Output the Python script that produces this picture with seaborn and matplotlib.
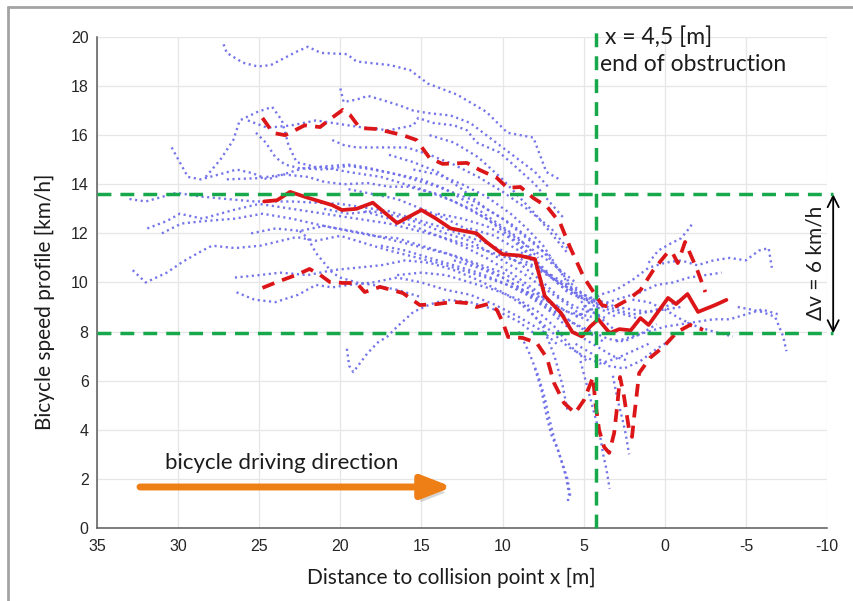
import numpy as np
import pandas as pd
import matplotlib
matplotlib.use("Agg")
import matplotlib.pyplot as plt
import matplotlib.patheffects as pe
from matplotlib.lines import Line2D
import seaborn as sns

# ---------------- data ----------------
x_ticks = [35, 30, 25, 20, 15, 10, 5, 0, -5, -10]
y_ticks = [0, 2, 4, 6, 8, 10, 12, 14, 16, 18, 20]

mean_x = [24.7, 23.9, 23.1, 22.0, 20.5, 19.9, 19.0, 18.0, 16.5, 15.0, 14.1, 13.2, 11.6, 11.0, 10.0,
          9.0, 8.0, 7.4, 6.4, 5.7, 5.1, 4.6, 4.1, 3.4, 2.8, 2.1, 1.5, 1.0, -0.2, -0.7, -1.4, -2.05, -3.1, -3.8]
mean_y = [13.3, 13.35, 13.69, 13.45, 13.15, 12.95, 13.0, 13.25, 12.42, 12.95, 12.6, 12.2, 12.0, 11.65, 11.15,
          11.1, 10.95, 9.45, 8.76, 7.98, 7.8, 8.2, 8.5, 7.94, 8.1, 8.05, 8.55, 8.27, 9.37, 9.12, 9.53, 8.80, 9.08, 9.29]

upper_x = [24.8, 24.15, 23.4, 22.2, 21.25, 20.45, 19.85, 19.4, 18.8, 17.75, 16.15, 15.3, 14.5, 13.7, 12.2,
           11.4, 10.35, 9.7, 8.9, 8.1, 7.25, 6.45, 5.85, 5.0, 4.2, 3.87, 3.2, 2.3, 1.5, 0.7, -0.15, -0.45,
           -0.8, -1.25, -2.0, -2.5]
upper_y = [16.7, 16.09, 16.0, 16.4, 16.33, 16.74, 17.03, 16.82, 16.29, 16.25, 16.0, 15.8, 15.07, 14.83, 14.87,
           14.58, 14.26, 13.85, 13.89, 13.44, 13.08, 12.42, 11.45, 10.22, 9.41, 9.08, 8.96, 9.29, 9.69, 10.51,
           11.2, 11.24, 10.79, 11.65, 10.51, 9.61]

lower_x = [24.8, 23.9, 22.7, 21.9, 21.25, 20.65, 19.85, 19.0, 18.5, 17.55, 16.15, 15.1, 14.05, 13.05, 12.2,
           11.6, 10.9, 10.35, 9.97, 9.66, 8.75, 7.9, 7.26, 6.83, 6.21, 5.53, 4.98, 4.42, 4.3, 4.05, 3.74,
           3.43, 3.12, 2.94, 2.76, 2.51, 2.2, 2.02, 1.89, 1.58, 0.91, 0.1, -0.76, -1.56, -2.36]
lower_y = [9.78, 10.02, 10.31, 10.55, 10.31, 10.02, 9.98, 9.98, 9.61, 9.82, 9.57, 9.08, 9.12, 9.21, 9.16,
           9.0, 9.12, 8.88, 8.35, 7.78, 7.74, 7.54, 6.92, 5.91, 5.09, 4.68, 5.21, 6.15, 5.21, 3.99, 3.3,
           3.06, 3.87, 4.93, 6.15, 5.34, 3.99, 3.71, 4.52, 6.31, 6.93, 7.37, 7.98, 8.27, 8.07]

# individual bicycle trajectories (x [m], v [km/h])
traj01 = ([27.2, 27.0, 26.0, 25.1, 24.3, 22.7, 22.0, 21.2, 19.6, 19.0, 16.9, 15.7, 14.6, 12.8, 11.0, 9.7, 8.1, 7.3, 6.5],
          [19.7, 19.35, 18.95, 18.8, 18.85, 19.4, 19.6, 19.35, 19.3, 19.0, 18.85, 18.65, 18.1, 17.65, 16.95, 16.1, 15.9, 14.5, 14.2])
traj02 = ([20.0, 19.8, 19.0, 18.3, 17.5, 16.3, 15.5, 14.6, 13.2, 12.0, 11.0, 10.0, 9.0, 8.0, 7.2],
          [17.9, 17.35, 17.45, 17.6, 17.45, 17.2, 17.0, 16.9, 16.8, 16.5, 16.0, 15.5, 15.0, 14.5, 13.9])
traj03 = ([28.3, 27.4, 26.6, 26.2, 25.1, 24.2, 23.6, 23.2, 22.7, 21.5, 19.5, 18.5, 16.5, 14.0, 12.0, 10.0, 8.5, 7.0],
          [14.3, 15.0, 15.8, 16.6, 16.95, 17.15, 16.6, 15.6, 14.9, 14.7, 14.8, 14.7, 14.4, 13.9, 13.4, 12.6, 11.8, 11.0])
traj04 = ([25.7, 24.5, 23.0, 21.5, 20.0, 18.5, 17.0, 15.5, 15.2, 14.3, 13.0, 12.2, 11.6, 10.2, 9.0, 8.0, 7.0, 6.2],
          [16.6, 16.3, 16.4, 16.6, 16.45, 16.3, 16.2, 16.4, 16.7, 16.5, 16.4, 16.2, 15.7, 15.3, 14.6, 14.0, 13.2, 12.6])
traj05 = ([20.5, 19.8, 19.0, 17.1, 15.9, 14.5, 13.0, 11.5, 10.0, 8.5, 7.0, 6.0],
          [15.8, 15.6, 15.5, 15.5, 15.5, 15.2, 14.8, 14.3, 13.7, 13.0, 12.2, 11.4])
traj06 = ([30.4, 29.9, 29.4, 28.6, 27.2, 26.4, 25.4, 24.5, 22.3, 21.1, 19.5, 17.5, 15.0, 13.0, 11.0, 9.0, 7.5, 6.0, 4.5],
          [15.5, 14.9, 14.3, 14.2, 14.45, 14.6, 14.45, 14.2, 14.65, 14.7, 14.5, 14.3, 13.8, 13.3, 12.6, 11.6, 10.6, 9.6, 9.2])
traj07 = ([25.2, 24.6, 24.0, 23.4, 22.5, 21.0, 19.5, 18.0, 16.5, 15.0, 13.5, 12.0, 10.5, 9.0, 7.8],
          [16.1, 15.7, 15.1, 14.8, 14.65, 14.6, 14.75, 14.6, 14.4, 14.2, 13.8, 13.2, 12.5, 11.8, 11.0])
traj08 = ([27.0, 25.0, 23.5, 22.0, 21.0, 19.8, 18.3, 17.0, 15.8, 14.0, 12.0, 10.0, 8.5, 7.0, 5.5],
          [14.2, 14.25, 14.4, 14.3, 14.1, 14.0, 14.05, 13.9, 13.9, 13.6, 13.0, 12.2, 11.5, 10.8, 10.0])
traj09 = ([33.0, 32.0, 30.1, 28.6, 27.0, 25.3, 23.0, 20.0, 17.0, 14.0, 11.0, 9.0, 7.0, 5.0, 3.0, 1.0, -1.0],
          [13.4, 13.3, 13.65, 13.5, 13.4, 13.3, 13.3, 13.2, 12.9, 12.3, 11.6, 11.0, 10.3, 9.5, 9.0, 8.8, 9.0])
traj10 = ([31.9, 30.7, 29.9, 28.5, 26.6, 25.0, 23.0, 20.0, 17.0, 14.0, 11.0, 8.0, 6.0, 4.5, 3.0],
          [12.2, 12.5, 12.8, 12.6, 12.95, 13.2, 13.0, 12.7, 12.4, 11.9, 11.3, 10.6, 9.8, 9.1, 8.6])
traj11 = ([31.0, 29.8, 28.4, 26.5, 24.8, 23.0, 21.0, 18.5, 16.0, 13.0, 10.0, 8.0, 6.0, 4.5],
          [12.0, 12.4, 12.5, 12.6, 12.8, 12.6, 12.3, 12.0, 11.6, 11.1, 10.4, 9.6, 8.8, 8.4])
traj12 = ([32.8, 32.0, 30.7, 29.7, 28.5, 27.9, 26.5, 24.9, 22.7, 21.5, 20.0, 17.0, 14.0, 11.0, 8.0, 6.0, 4.5],
          [10.5, 10.0, 10.4, 10.85, 11.3, 11.5, 11.4, 11.5, 11.85, 11.7, 11.9, 11.3, 10.8, 10.2, 9.5, 8.8, 8.6])
traj13 = ([25.5, 24.0, 22.5, 21.0, 19.5, 18.0, 16.5, 15.0, 13.5, 12.0, 10.5, 9.0, 7.5, 6.0],
          [12.0, 12.2, 12.1, 12.3, 12.1, 11.9, 11.8, 11.5, 11.2, 10.8, 10.4, 9.8, 9.1, 8.4])
traj14 = ([26.4, 25.3, 24.0, 22.6, 21.5, 20.5, 19.5, 18.0, 16.5, 15.0, 13.5, 12.0, 10.5, 9.0, 7.5, 6.5],
          [9.6, 9.3, 9.2, 9.5, 9.9, 9.8, 9.9, 10.0, 10.2, 10.0, 9.7, 9.5, 9.1, 8.6, 8.0, 7.4])
traj15 = ([26.5, 25.0, 23.7, 22.0, 20.5, 19.0, 17.5, 16.0, 14.5, 13.0, 11.5, 10.0, 8.5, 7.5, 6.8, 6.3, 6.0],
          [10.2, 10.3, 10.4, 10.3, 10.5, 10.6, 10.7, 10.9, 10.8, 10.5, 10.1, 9.6, 9.0, 8.2, 7.0, 5.8, 4.8])
traj16 = ([22.5, 22.0, 21.5, 21.0, 20.5, 20.0, 19.0, 18.0, 16.5, 15.0],
          [12.1, 11.8, 11.2, 10.8, 10.4, 10.2, 10.0, 9.9, 9.7, 9.4])
traj17 = ([19.5, 18.0, 16.5, 15.0, 13.5, 12.0, 10.5, 9.0, 7.5, 6.5, 5.5, 4.5, 3.5],
          [13.8, 13.6, 13.4, 13.0, 12.6, 12.1, 11.4, 10.8, 10.0, 9.4, 9.0, 8.8, 8.5])
traj18 = ([18.5, 17.0, 15.5, 14.0, 12.5, 11.0, 9.5, 8.0, 6.8, 5.8, 4.8, 3.8],
          [12.9, 12.6, 12.3, 11.9, 11.5, 11.0, 10.4, 9.7, 9.0, 8.4, 8.0, 7.6])
traj19 = ([17.5, 16.0, 14.5, 13.0, 11.5, 10.0, 8.5, 7.2, 6.2, 5.2, 4.2, 3.2, 2.2],
          [11.5, 11.3, 11.0, 10.7, 10.4, 10.0, 9.5, 8.9, 8.3, 7.8, 7.4, 7.0, 6.8])
traj20 = ([16.5, 15.0, 13.5, 12.0, 10.5, 9.0, 7.8, 6.8, 5.8, 4.8],
          [10.3, 10.4, 10.3, 10.0, 9.7, 9.3, 8.8, 8.2, 7.4, 6.8])
traj21 = ([15.5, 14.0, 12.5, 11.0, 9.5, 8.5, 7.5, 6.6, 5.8, 5.0, 4.2, 3.5, 2.8],
          [14.6, 14.4, 14.0, 13.5, 12.8, 12.2, 11.5, 10.6, 9.8, 9.1, 8.7, 8.3, 7.9])
traj22 = ([14.0, 12.5, 11.0, 9.5, 8.5, 7.5, 6.5, 5.5, 4.5, 3.5, 2.5, 1.5],
          [12.8, 12.6, 12.3, 11.8, 11.2, 10.5, 9.9, 9.5, 9.2, 8.9, 8.7, 8.5])
traj23 = ([9.0, 8.4, 7.8, 7.4, 7.1, 6.8, 6.4, 6.1, 5.9, 6.0],
          [8.0, 7.2, 6.2, 5.3, 4.4, 3.6, 2.8, 2.1, 1.4, 1.0])
traj24 = ([8.0, 7.6, 7.3, 7.0, 6.6, 6.3, 6.0, 5.8],
          [6.5, 5.6, 4.6, 3.8, 3.2, 2.6, 2.0, 1.2])
traj25 = ([5.2, 4.8, 4.4, 4.0, 3.8, 3.6, 3.4],
          [6.8, 5.8, 4.8, 3.8, 3.0, 2.4, 1.6])
traj26 = ([3.2, 2.9, 2.6, 2.4, 2.2],
          [6.2, 5.2, 4.4, 3.8, 3.0])
traj27 = ([19.6, 19.45, 19.2, 18.35, 17.7, 17.1, 16.5, 15.5, 14.5, 13.5, 12.0, 10.5, 9.0, 8.0],
          [7.3, 6.6, 6.35, 7.1, 7.55, 7.8, 8.2, 8.8, 9.1, 9.3, 9.2, 8.9, 8.4, 7.9])
traj28 = ([5.5, 4.5, 3.5, 2.5, 1.5, 0.5, -0.5, -1.5, -2.5, -3.5],
          [8.6, 8.9, 9.2, 9.4, 9.6, 9.9, 10.0, 10.2, 10.3, 10.4])
traj29 = ([5.0, 4.0, 3.0, 2.0, 1.0, 0.0, -1.0, -2.0, -3.0, -4.0, -5.0, -5.8, -6.4, -6.6],
          [9.0, 9.5, 9.7, 10.1, 10.6, 10.8, 10.9, 10.7, 10.9, 11.0, 10.9, 11.3, 11.4, 10.6])
traj30 = ([1.0, 0.4, -0.4, -1.0, -1.5, -1.7],
          [10.8, 11.3, 11.6, 11.8, 12.2, 12.4])
traj31 = ([3.0, 2.0, 1.0, 0.0, -1.0, -2.0, -3.0, -4.0, -5.0, -6.0, -7.0],
          [7.6, 7.8, 8.0, 8.2, 8.3, 8.4, 8.5, 8.5, 8.7, 8.9, 8.7])
traj32 = ([-4.5, -5.3, -6.0, -6.8, -7.3, -7.5],
          [9.0, 8.9, 8.8, 8.6, 7.8, 7.2])
traj33 = ([5.5, 4.5, 3.5, 2.5, 1.5, 0.5, -0.5],
          [7.5, 7.1, 6.6, 6.5, 6.8, 7.3, 7.7])
traj34 = ([2.0, 1.0, 0.0, -1.0, -2.0, -3.0, -4.2],
          [9.3, 9.2, 8.9, 8.5, 8.2, 8.0, 7.8])
traj35 = ([21.0, 19.5, 18.0, 16.5, 15.0, 13.5, 12.0, 10.5, 9.0, 7.5, 6.0, 5.0],
          [13.0, 12.8, 12.9, 12.7, 12.4, 12.0, 11.7, 11.1, 10.5, 9.8, 9.1, 8.6])
traj36 = ([17.0, 15.5, 14.0, 12.5, 11.0, 9.5, 8.0, 7.0, 6.0, 5.0, 4.0],
          [15.2, 14.9, 14.5, 13.8, 13.0, 12.4, 11.6, 10.9, 10.1, 9.5, 9.1])
traj37 = ([13.0, 11.5, 10.0, 8.5, 7.5, 6.5, 5.5, 4.5, 3.5, 2.5, 1.5, 0.5],
          [10.9, 10.6, 10.2, 9.6, 9.2, 8.7, 8.3, 8.0, 7.7, 7.6, 7.9, 8.3])
traj38 = ([12.0, 10.5, 9.0, 8.0, 7.0, 6.0, 5.0, 4.0, 3.0, 2.0, 1.0, 0.0, -1.0],
          [12.2, 11.9, 11.3, 10.8, 10.2, 9.8, 9.4, 9.1, 8.9, 8.7, 8.8, 9.0, 9.3])
traj39 = ([9.0, 8.0, 7.0, 6.0, 5.0, 4.0, 3.0, 2.0, 1.0],
          [9.2, 8.6, 8.0, 7.4, 7.0, 6.7, 6.9, 7.2, 7.5])
traj40 = ([14.5, 13.0, 11.5, 10.0, 9.0, 8.0, 7.0, 6.0],
          [16.0, 15.7, 15.1, 14.2, 13.5, 12.8, 12.0, 11.2])

trajectories = [traj01, traj02, traj03, traj04, traj05, traj06, traj07, traj08, traj09, traj10,
                traj11, traj12, traj13, traj14, traj15, traj16, traj17, traj18, traj19, traj20,
                traj21, traj22, traj23, traj24, traj25, traj26, traj27, traj28, traj29, traj30,
                traj31, traj32, traj33, traj34, traj35, traj36, traj37, traj38, traj39, traj40]

obstruction_end_x = 4.25
band_top = 13.6
band_bottom = 7.93

# ---------------- styling ----------------
BLUE = "#6e6eea"
RED = "#dc1518"
GREEN = "#18a84c"
ORANGE = "#ee7f16"
TXT = "#1c1c1c"

sns.set_theme(style="white")
plt.rcParams["font.family"] = ["Liberation Sans", "DejaVu Sans"]
LABEL_FONT = ["Lato", "DejaVu Sans"]

fig = plt.figure(figsize=(8.54, 6.01), dpi=100)
ax = fig.add_axes([0.1136, 0.1215, 0.8548, 0.8170])

rows = []
for i, (tx, ty) in enumerate(trajectories):
    for a, b in zip(tx, ty):
        rows.append((i, a, b))
traj_df = pd.DataFrame(rows, columns=["traj", "x", "y"])

sns.lineplot(data=traj_df, x="x", y="y", units="traj", estimator=None, sort=False,
             color=BLUE, lw=1.7, ls=(0, (0.9, 1.5)), alpha=0.95, ax=ax, legend=False)

sns.lineplot(x=upper_x, y=upper_y, sort=False, estimator=None, color=RED, lw=2.7,
             ls=(0, (3.4, 2.2)), ax=ax)
sns.lineplot(x=lower_x, y=lower_y, sort=False, estimator=None, color=RED, lw=2.7,
             ls=(0, (3.4, 2.2)), ax=ax)
sns.lineplot(x=mean_x, y=mean_y, sort=False, estimator=None, color=RED, lw=2.7, ax=ax)

# green reference lines
ax.plot([35, -10.35], [band_top, band_top], color=GREEN, lw=2.5, ls=(0, (4, 2.6)), clip_on=False, zorder=5)
ax.plot([35, -10.35], [band_bottom, band_bottom], color=GREEN, lw=2.5, ls=(0, (4, 2.6)), clip_on=False, zorder=5)
ax.plot([obstruction_end_x, obstruction_end_x], [0, 20.3], color=GREEN, lw=2.5, ls=(0, (4, 2.6)),
        clip_on=False, zorder=5)

ax.set_xlim(35, -10)
ax.set_ylim(0, 20)
ax.set_xticks(x_ticks)
ax.set_yticks(y_ticks)
ax.set_xticklabels([str(t) for t in x_ticks])
ax.set_yticklabels([str(t) for t in y_ticks])
ax.grid(True, color="#e6e6e6", lw=0.9)
ax.set_axisbelow(True)
for s in ["top", "right"]:
    ax.spines[s].set_visible(False)
for s in ["left", "bottom"]:
    ax.spines[s].set_color("#5a5a5a")
    ax.spines[s].set_linewidth(1.1)
ax.tick_params(axis="both", direction="in", length=5, width=1, color="#5a5a5a",
               labelsize=11.5, labelcolor="#262626")
ax.tick_params(axis="x", pad=8)
ax.tick_params(axis="y", pad=6)

ax.set_xlabel("Distance to collision point x [m]", fontsize=15, family=LABEL_FONT, color=TXT)
ax.set_ylabel("Bicycle speed profile [km/h]", fontsize=15, family=LABEL_FONT, color=TXT)
ax.xaxis.set_label_coords(0.486, -0.102)
ax.xaxis.label.set_va("center")
ax.yaxis.set_label_coords(-0.071, 0.46)
ax.yaxis.label.set_va("center")

# annotations
ax.text(3.7, 20.0, "x = 4,5 [m]", fontsize=16.5, family=LABEL_FONT, color=TXT, ha="left", va="center", clip_on=False)
ax.text(4.0, 18.86, "end of obstruction", fontsize=16.5, family=LABEL_FONT, color=TXT, ha="left", va="center")
ax.text(30.8, 2.65, "bicycle driving direction", fontsize=16, family=LABEL_FONT, color=TXT, ha="left", va="center")
ax.text(-9.27, 10.8, "\u0394v = 6 km/h", fontsize=15, family=LABEL_FONT, color=TXT, rotation=90,
        ha="center", va="center", clip_on=False)

ax.annotate("", xy=(-10.38, band_top), xytext=(-10.38, band_bottom),
            arrowprops=dict(arrowstyle="<->", lw=1.3, color="black", shrinkA=0, shrinkB=0, mutation_scale=20),
            annotation_clip=False)

ax.annotate("", xy=(13.1, 1.67), xytext=(32.35, 1.67),
            arrowprops=dict(arrowstyle="-|>,head_length=0.9,head_width=0.35", lw=5, color=ORANGE,
                            shrinkA=0, shrinkB=0, mutation_scale=20,
                            path_effects=[pe.withSimplePatchShadow(offset=(2, -4), alpha=0.3, shadow_rgbFace="#777777")]))

# outer frame (top and left)
fig.add_artist(Line2D([8 / 854, 8 / 854], [0, 1 - 7 / 601], transform=fig.transFigure, color="#a3a3a3", lw=2))
fig.add_artist(Line2D([8 / 854, 1], [1 - 7 / 601, 1 - 7 / 601], transform=fig.transFigure, color="#a3a3a3", lw=2))

fig.savefig("out.png", dpi=100)
